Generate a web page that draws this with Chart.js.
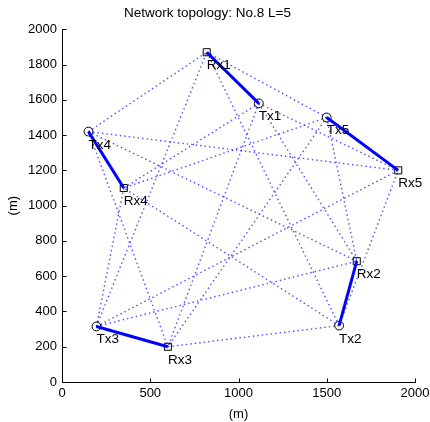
<!DOCTYPE html>
<html>
<head>
<meta charset="utf-8">
<script src="https://cdn.jsdelivr.net/npm/chart.js@4/dist/chart.umd.min.js"></script>
<style>
  html, body { margin: 0; padding: 0; background: #fff; }
  #wrap { width: 430px; height: 422px; }
</style>
</head>
<body>
<div id="wrap"><canvas id="c" width="430" height="422"></canvas></div>
<script>
// Node positions (metres)
const txNames = ['Tx1', 'Tx2', 'Tx3', 'Tx4', 'Tx5'];
const txX = [1115, 1570, 195, 150, 1500];
const txY = [1580, 320, 315, 1420, 1500];
const rxNames = ['Rx1', 'Rx2', 'Rx3', 'Rx4', 'Rx5'];
const rxX = [820, 1670, 600, 350, 1905];
const rxY = [1870, 685, 200, 1100, 1200];
// Axis ticks
const xTicks = [0, 500, 1000, 1500, 2000];
const yTicks = [0, 200, 400, 600, 800, 1000, 1200, 1400, 1600, 1800, 2000];
const titleText = 'Network topology: No.8 L=5';
const axisLabel = '(m)';

const FONT = '"Liberation Sans", Arial, Helvetica, sans-serif';
const BLUE = '#0000ff';

const datasets = [];
// Cross links: every transmitter to every other receiver (dotted)
for (let i = 0; i < txX.length; i++) {
  for (let j = 0; j < rxX.length; j++) {
    if (i === j) continue;
    datasets.push({
      data: [{x: txX[i], y: txY[i]}, {x: rxX[j], y: rxY[j]}],
      showLine: true, pointRadius: 0, borderWidth: 1.4,
      borderColor: 'rgba(40,40,255,0.8)', borderDash: [1.5, 3],
      order: 3
    });
  }
}
// Direct links Tx_i -> Rx_i (solid)
for (let i = 0; i < txX.length; i++) {
  datasets.push({
    data: [{x: txX[i], y: txY[i]}, {x: rxX[i], y: rxY[i]}],
    showLine: true, pointRadius: 0, borderWidth: 3,
    borderColor: BLUE, order: 0
  });
}
// Transmitters: circles
datasets.push({
  data: txX.map((x, i) => ({x, y: txY[i]})),
  pointStyle: 'circle', pointRadius: 4.4, borderWidth: 1,
  borderColor: '#000', backgroundColor: 'rgba(0,0,0,0)', order: 1
});
// Receivers: squares
datasets.push({
  data: rxX.map((x, i) => ({x, y: rxY[i]})),
  pointStyle: 'rect', pointRadius: 5, borderWidth: 1,
  borderColor: '#000', backgroundColor: 'rgba(0,0,0,0)', order: 1
});

// Node names next to each marker, plus inward tick marks on both axes
const decorations = {
  id: 'decorations',
  afterDatasetsDraw(chart) {
    const ctx = chart.ctx, xs = chart.scales.x, ys = chart.scales.y;
    ctx.save();
    ctx.fillStyle = '#000';
    ctx.font = '13.5px ' + FONT;
    ctx.textAlign = 'left';
    ctx.textBaseline = 'alphabetic';
    const put = (names, X, Y) => names.forEach((n, i) => {
      ctx.fillText(n, xs.getPixelForValue(X[i]), ys.getPixelForValue(Y[i]) + 17);
    });
    put(txNames, txX, txY);
    put(rxNames, rxX, rxY);

    ctx.strokeStyle = '#000';
    ctx.lineWidth = 1;
    const left = Math.round(xs.left) + 0.5, bottom = Math.round(ys.bottom) + 0.5;
    ctx.beginPath();
    yTicks.forEach(v => {
      const p = Math.round(ys.getPixelForValue(v)) + 0.5;
      ctx.moveTo(left, p); ctx.lineTo(left + 4, p);
    });
    xTicks.forEach(v => {
      const p = Math.round(xs.getPixelForValue(v)) + 0.5;
      ctx.moveTo(p, bottom); ctx.lineTo(p, bottom - 4);
    });
    ctx.stroke();
    ctx.restore();
  }
};

new Chart(document.getElementById('c'), {
  type: 'scatter',
  data: { datasets },
  options: {
    responsive: false,
    animation: false,
    devicePixelRatio: 1,
    layout: { padding: { left: 0, right: 15, top: 0, bottom: 0 } },
    plugins: {
      legend: { display: false },
      tooltip: { enabled: false },
      title: {
        display: true, text: titleText, color: '#000',
        font: { family: FONT, size: 13.5, weight: 'normal', lineHeight: 1.2 },
        padding: { top: 5.5, bottom: 7.6 }
      }
    },
    scales: {
      x: {
        type: 'linear', min: 0, max: 2000,
        afterBuildTicks: s => { s.ticks = xTicks.map(v => ({value: v})); },
        afterFit: s => { s.height = 40; s.paddingLeft = 0; s.paddingRight = 0; },
        grid: { display: false, drawTicks: false },
        border: { display: true, color: '#000', width: 1 },
        ticks: { color: '#000', padding: 4, maxRotation: 0,
                 callback: v => String(v),
                 font: { family: FONT, size: 13 } },
        title: { display: true, text: axisLabel, color: '#000', padding: { top: 0, bottom: 0 },
                 font: { family: FONT, size: 13 } }
      },
      y: {
        type: 'linear', min: 0, max: 2000,
        afterBuildTicks: s => { s.ticks = yTicks.map(v => ({value: v})); },
        afterFit: s => { s.width = 62; },
        grid: { display: false, drawTicks: false },
        border: { display: true, color: '#000', width: 1 },
        ticks: { color: '#000', padding: 5,
                 callback: v => String(v),
                 font: { family: FONT, size: 13 } },
        title: { display: true, text: axisLabel, color: '#000', padding: { top: 6, bottom: 0 },
                 font: { family: FONT, size: 13 } }
      }
    }
  },
  plugins: [decorations]
});
</script>
</body>
</html>
